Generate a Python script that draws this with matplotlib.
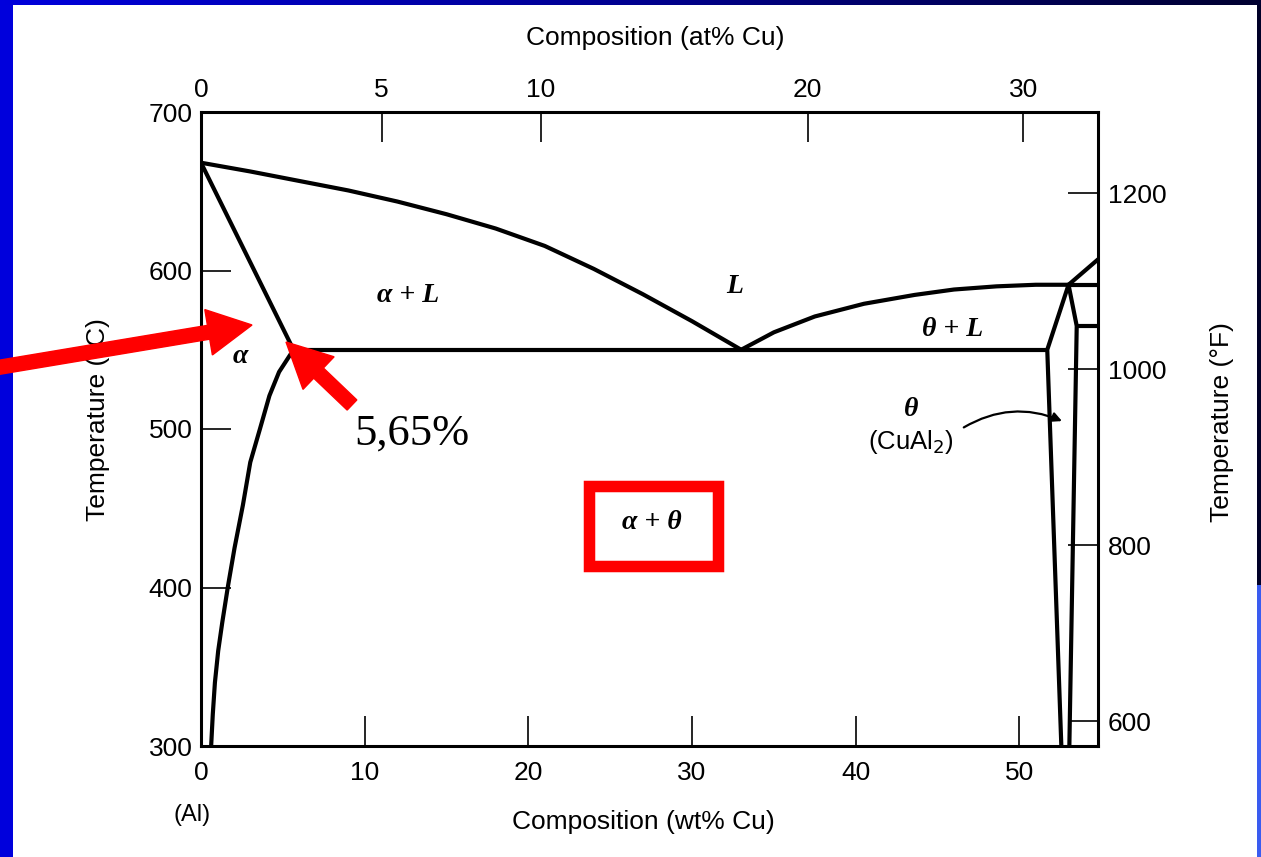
import numpy as np
import matplotlib
matplotlib.use('Agg')
import matplotlib.pyplot as plt
from matplotlib import patches
from matplotlib.transforms import IdentityTransform
from matplotlib.colors import LinearSegmentedColormap

plt.rcParams['font.family'] = ['Liberation Sans', 'DejaVu Sans']

W, H = 1261, 857

# ---------------- data (wt% Cu, temperature degC) ----------------
liquidus_wt = [0, 3, 6, 9, 12, 15, 18, 21, 24, 27, 30, 33.0]
liquidus_T = [668, 662.5, 656.5, 650.5, 643.5, 635.5, 626.5, 615.5, 601, 585, 568, 550]
solidus_wt = [0, 5.65]
solidus_T = [668, 550]
solvus_wt = [5.65, 4.77, 4.18, 3.6, 3.01, 2.56, 2.05, 1.65, 1.3, 1.05, 0.85, 0.72, 0.62]
solvus_T = [550, 536, 521, 500, 479, 452, 425, 401, 378, 360, 340, 320, 300]
eutectic_wt = [5.65, 51.7]
eutectic_T = [550, 550]
theta_liq_wt = [33.0, 35.0, 37.5, 40.5, 43.6, 46.0, 48.6, 51.0, 53.0]
theta_liq_T = [550, 561, 571, 579, 584.6, 588, 590, 591, 591]
theta_left_wt = [53.0, 51.7, 52.56]
theta_left_T = [591, 550, 300]
theta_right_wt = [53.0, 53.5, 53.05]
theta_right_T = [591, 565, 300]
peritectic_wt = [53.0, 54.8]
peritectic_T = [591, 591]
upper_wt = [53.5, 54.8]
upper_T = [565, 565]
liq_right_wt = [53.0, 54.8]
liq_right_T = [591, 607]

bottom_ticks = [0, 10, 20, 30, 40, 50]
left_ticks = [300, 400, 500, 600, 700]
top_ticks_at = [0, 5, 10, 20, 30]
right_ticks_F = [600, 800, 1000, 1200]

phase_labels = [("α + L", 12.65, 584.5), ("L", 32.6, 589.6), ("θ + L", 45.9, 562.5),
                ("α", 2.4, 546), ("α + θ", 27.55, 441), ("θ", 43.4, 512)]

M_CU, M_AL = 63.55, 26.98


def wt2at(w):
    w = np.asarray(w, dtype=float)
    a = w / M_CU
    b = (100 - w) / M_AL
    return 100 * a / (a + b)


def at2wt(a):
    a = np.asarray(a, dtype=float)
    c = a * M_CU
    d = (100 - a) * M_AL
    return 100 * c / (c + d)


def c2f(c):
    return np.asarray(c, dtype=float) * 9 / 5 + 32


def f2c(f):
    return (np.asarray(f, dtype=float) - 32) * 5 / 9


fig = plt.figure(figsize=(W / 100, H / 100), dpi=100)
fig.patch.set_facecolor('white')
ax = fig.add_axes([201 / W, 1 - 746 / H, (1098 - 201) / W, (746 - 112) / H])
ax.set_xlim(0, 54.8)
ax.set_ylim(300, 700)

lw = 3.0
for xs, ys in [(liquidus_wt, liquidus_T), (solidus_wt, solidus_T), (solvus_wt, solvus_T),
               (eutectic_wt, eutectic_T), (theta_liq_wt, theta_liq_T),
               (theta_left_wt, theta_left_T), (theta_right_wt, theta_right_T),
               (peritectic_wt, peritectic_T), (upper_wt, upper_T), (liq_right_wt, liq_right_T)]:
    ax.plot(xs, ys, color='black', lw=lw, solid_capstyle='round', solid_joinstyle='round')

for s in ax.spines.values():
    s.set_linewidth(2.2)

ax.set_xticks(bottom_ticks)
ax.set_yticks(left_ticks)
ax.tick_params(direction='in', length=21.6, width=1.2, labelsize=19, top=False, right=False)
ax.tick_params(axis='x', pad=11)
ax.tick_params(axis='y', pad=6)

sec_x = ax.secondary_xaxis('top', functions=(wt2at, at2wt))
sec_x.set_xticks(top_ticks_at)
sec_x.tick_params(direction='in', length=21.6, width=1.2, labelsize=19, pad=7)

sec_y = ax.secondary_yaxis('right', functions=(c2f, f2c))
sec_y.set_yticks(right_ticks_F)
sec_y.tick_params(direction='in', length=21.6, width=1.2, labelsize=19, pad=7)

for txt, x, y in phase_labels:
    ax.text(x, y, txt, ha='center', va='center', fontsize=20, fontweight='bold',
            fontstyle='italic', family=['Liberation Serif', 'DejaVu Serif'])
ax.text(43.4, 492, '(CuAl$_2$)', ha='center', va='center', fontsize=18.5)
ax.text(12.9, 497, '5,65%', ha='center', va='center', fontsize=32,
        family=['Liberation Serif', 'DejaVu Serif'])

ax.annotate('', xy=(52.6, 505), xytext=(46.6, 501),
            arrowprops=dict(arrowstyle='-|>', lw=1.6, color='black',
                            connectionstyle='arc3,rad=-0.25', mutation_scale=14,
                            shrinkA=0, shrinkB=0))

# axis titles
fig.text(655 / W, 1 - 38 / H, 'Composition (at% Cu)', ha='center', va='center', fontsize=19)
fig.text(643 / W, 1 - 822 / H, 'Composition (wt% Cu)', ha='center', va='center', fontsize=19)
fig.text(98 / W, 1 - 420 / H, 'Temperature (°C)', ha='center', va='center', fontsize=19, rotation=90)
fig.text(1222 / W, 1 - 422 / H, 'Temperature (°F)', ha='center', va='center', fontsize=19, rotation=90)
fig.text(192 / W, 1 - 815 / H, '(Al)', ha='center', va='center', fontsize=17)

# ---------------- slide decorations (pixel coordinates) ----------------
ident = IdentityTransform()


def P(x, y):
    return (x, H - y)


fig.add_artist(patches.Rectangle(P(0, H), 13, H, transform=ident, facecolor='#0000dc',
                                 edgecolor='none', zorder=20))
grad_ax = fig.add_axes([0, 1 - 5 / H, 1, 5 / H], zorder=20)
grad_ax.axis('off')
g = np.linspace(0, 1, 256)[None, :]
cmap = LinearSegmentedColormap.from_list('bar', ['#0000dc', '#000090', '#000030'])
grad_ax.imshow(g, aspect='auto', cmap=cmap, extent=[0, 1, 0, 1])
fig.add_artist(patches.Rectangle(P(1257, 585), 4, 585, transform=ident, facecolor='#000028',
                                 edgecolor='none', zorder=20))
fig.add_artist(patches.Rectangle(P(1257, H), 4, H - 585, transform=ident, facecolor='#3a5cf0',
                                 edgecolor='none', zorder=20))

t1, h1 = P(-5, 368), P(252, 325)
fig.add_artist(patches.FancyArrow(t1[0], t1[1], h1[0] - t1[0], h1[1] - t1[1], width=14,
                                  head_width=46, head_length=44, length_includes_head=True,
                                  transform=ident, color='#ff0000', zorder=30))
t2, h2 = P(352, 405), P(286, 342)
fig.add_artist(patches.FancyArrow(t2[0], t2[1], h2[0] - t2[0], h2[1] - t2[1], width=14,
                                  head_width=45, head_length=45, length_includes_head=True,
                                  transform=ident, color='#ff0000', zorder=30))
fig.add_artist(patches.Rectangle(P(588.5, 566), 129, 80.5, transform=ident, facecolor='none',
                                 edgecolor='#ff0000', lw=11.5 * 72 / 100, joinstyle='miter',
                                 zorder=30))

fig.savefig('out.png', dpi=100)
